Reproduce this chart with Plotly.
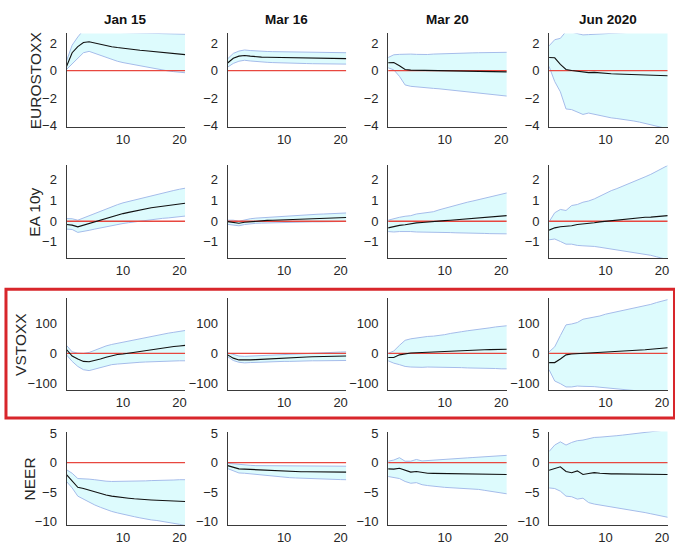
import plotly.graph_objects as go

W, H = 675, 554

# ---------------- data ----------------
horizon = list(range(0, 22))
periods = ["Jan 15", "Mar 16", "Mar 20", "Jun 2020"]
variables = ["EUROSTOXX", "EA 10y", "VSTOXX", "NEER"]
x_ticks = [10, 20]
y_ticks_estx = [-4, -2, 0, 2]
y_ticks_ea10 = [-1, 0, 1, 2]
y_ticks_vstx = [-100, 0, 100]
y_ticks_neer = [-10, -5, 0, 5]

# EUROSTOXX
estx_jan15_med = [0.3, 1.3, 1.75, 2.05, 2.1, 2.0, 1.9, 1.82, 1.74, 1.68, 1.62, 1.57, 1.52, 1.48, 1.44, 1.40, 1.36, 1.32, 1.28, 1.24, 1.20, 1.16]
estx_jan15_hi = [0.7, 1.85, 2.45, 2.95, 3.05, 2.98, 2.92, 2.86, 2.8, 2.78, 2.77, 2.76, 2.75, 2.74, 2.73, 2.72, 2.71, 2.7, 2.69, 2.68, 2.67, 2.65]
estx_jan15_lo = [0.08, 0.5, 0.95, 1.3, 1.4, 1.25, 1.1, 0.95, 0.78, 0.68, 0.58, 0.5, 0.42, 0.34, 0.26, 0.18, 0.1, 0.03, -0.03, -0.08, -0.12, -0.16]
estx_mar16_med = [0.55, 0.9, 1.05, 1.1, 1.05, 1.0, 0.98, 0.97, 0.96, 0.95, 0.94, 0.93, 0.92, 0.92, 0.91, 0.9, 0.9, 0.89, 0.89, 0.88, 0.88, 0.87]
estx_mar16_hi = [0.85, 1.25, 1.42, 1.5, 1.46, 1.42, 1.4, 1.39, 1.38, 1.37, 1.36, 1.35, 1.35, 1.34, 1.33, 1.33, 1.32, 1.32, 1.31, 1.31, 1.3, 1.3]
estx_mar16_lo = [0.25, 0.52, 0.68, 0.75, 0.7, 0.65, 0.62, 0.6, 0.58, 0.56, 0.55, 0.54, 0.53, 0.52, 0.51, 0.5, 0.5, 0.49, 0.48, 0.48, 0.47, 0.47]
estx_mar20_med = [0.57, 0.58, 0.35, 0.08, 0.03, 0.02, 0.0, -0.02, 0.0, 0.01, 0.0, -0.01, -0.02, -0.03, -0.04, -0.05, -0.06, -0.07, -0.08, -0.09, -0.1, -0.1]
estx_mar20_hi = [0.95, 1.15, 1.18, 1.2, 1.2, 1.18, 1.15, 1.17, 1.2, 1.22, 1.24, 1.25, 1.26, 1.27, 1.28, 1.29, 1.3, 1.31, 1.32, 1.32, 1.33, 1.33]
estx_mar20_lo = [0.2, 0.05, -0.42, -1.05, -1.15, -1.2, -1.23, -1.27, -1.3, -1.33, -1.37, -1.41, -1.45, -1.5, -1.55, -1.6, -1.65, -1.7, -1.74, -1.78, -1.82, -1.86]
estx_jun20_med = [0.95, 0.93, 0.45, 0.08, 0.0, -0.06, -0.12, -0.15, -0.13, -0.18, -0.21, -0.23, -0.25, -0.27, -0.29, -0.31, -0.32, -0.33, -0.35, -0.36, -0.37, -0.38]
estx_jun20_hi = [1.8, 2.25, 2.35, 2.85, 2.8, 2.7, 2.6, 2.62, 2.65, 2.67, 2.7, 2.72, 2.74, 2.76, 2.78, 2.8, 2.83, 2.86, 2.9, 2.93, 2.96, 3.0]
estx_jun20_lo = [0.3, -0.8, -1.55, -2.8, -2.85, -3.0, -3.2, -3.1, -3.2, -3.3, -3.4, -3.45, -3.5, -3.55, -3.6, -3.68, -3.76, -3.85, -3.95, -4.05, -4.15, -4.3]

# EA 10y
ea10_jan15_med = [-0.16, -0.19, -0.27, -0.19, -0.1, 0.0, 0.08, 0.16, 0.23, 0.3, 0.37, 0.43, 0.49, 0.55, 0.6, 0.65, 0.69, 0.73, 0.76, 0.8, 0.84, 0.87]
ea10_jan15_hi = [0.13, 0.12, 0.05, 0.16, 0.27, 0.37, 0.49, 0.6, 0.7, 0.8, 0.89, 0.96, 1.03, 1.1, 1.16, 1.23, 1.3, 1.37, 1.43, 1.49, 1.55, 1.6]
ea10_jan15_lo = [-0.38, -0.4, -0.54, -0.5, -0.44, -0.38, -0.32, -0.27, -0.21, -0.16, -0.11, -0.07, -0.03, 0.01, 0.05, 0.08, 0.11, 0.14, 0.16, 0.19, 0.22, 0.25]
ea10_mar16_med = [-0.02, -0.05, -0.1, -0.05, -0.02, 0.0, 0.02, 0.04, 0.05, 0.06, 0.07, 0.08, 0.09, 0.1, 0.11, 0.12, 0.13, 0.14, 0.15, 0.16, 0.17, 0.18]
ea10_mar16_hi = [0.05, 0.05, 0.0, 0.07, 0.12, 0.15, 0.17, 0.19, 0.21, 0.23, 0.25, 0.27, 0.28, 0.3, 0.31, 0.32, 0.34, 0.35, 0.36, 0.37, 0.38, 0.4]
ea10_mar16_lo = [-0.15, -0.18, -0.22, -0.16, -0.12, -0.1, -0.09, -0.08, -0.07, -0.06, -0.05, -0.05, -0.04, -0.04, -0.03, -0.03, -0.03, -0.02, -0.02, -0.02, -0.01, -0.01]
ea10_mar20_med = [-0.32, -0.25, -0.2, -0.17, -0.12, -0.08, -0.06, -0.03, 0.0, 0.01, 0.03, 0.05, 0.07, 0.09, 0.11, 0.13, 0.15, 0.17, 0.19, 0.22, 0.25, 0.27]
ea10_mar20_hi = [0.05, 0.13, 0.19, 0.24, 0.27, 0.35, 0.38, 0.42, 0.46, 0.55, 0.63, 0.7, 0.78, 0.85, 0.92, 0.98, 1.04, 1.1, 1.16, 1.23, 1.3, 1.37]
ea10_mar20_lo = [-0.5, -0.52, -0.5, -0.49, -0.5, -0.52, -0.52, -0.53, -0.53, -0.54, -0.55, -0.55, -0.56, -0.56, -0.57, -0.57, -0.58, -0.59, -0.6, -0.6, -0.6, -0.61]
ea10_jun20_med = [-0.43, -0.32, -0.27, -0.25, -0.22, -0.16, -0.14, -0.11, -0.07, -0.03, 0.0, 0.03, 0.07, 0.1, 0.13, 0.15, 0.17, 0.19, 0.2, 0.22, 0.25, 0.27]
ea10_jun20_hi = [-0.03, 0.41, 0.57, 0.52, 0.76, 0.81, 0.92, 0.98, 1.08, 1.22, 1.37, 1.48, 1.58, 1.69, 1.79, 1.91, 2.03, 2.15, 2.27, 2.42, 2.56, 2.7]
ea10_jun20_lo = [-0.9, -0.86, -0.98, -1.11, -1.11, -1.17, -1.19, -1.2, -1.22, -1.26, -1.3, -1.34, -1.38, -1.42, -1.46, -1.51, -1.55, -1.6, -1.65, -1.72, -1.79, -1.86]

# VSTOXX
vstx_jan15_med = [13, -9, -19, -27, -28, -24, -19, -13, -8, -4, -2, 1, 4, 7, 10, 13, 16, 18.5, 21, 23, 25, 27]
vstx_jan15_hi = [27, 5, 1, 0, 3, 10, 19, 25, 30, 34, 38, 41, 44, 48, 52, 56, 60, 64, 68, 71, 74, 77]
vstx_jan15_lo = [-5, -27, -44, -55, -58, -53, -49, -45, -38, -36, -34, -32, -31, -30, -29, -28, -27, -26.5, -26, -25.5, -25, -25]
vstx_mar16_med = [-5, -16, -22, -23, -22, -21, -20, -19, -16, -15.5, -15, -14, -13, -12.5, -12, -11.5, -11, -10.5, -10, -9.5, -9, -9]
vstx_mar16_hi = [2, -4, -9, -10, -9, -8, -7, -6, -5, -4.5, -4, -3, -2, -1.5, -1, 0, 1, 2, 3, 4, 4.5, 5]
vstx_mar16_lo = [-11, -24, -30, -32, -31, -30, -29, -28, -28, -27, -27, -27, -26, -26, -26, -25, -25, -25, -25, -25, -24, -24]
vstx_mar20_med = [-14, -14, -5, -1, 1, 2, 3, 3, 3, 4, 5, 6, 8, 9, 10, 10.5, 11, 12, 12.5, 13, 13.5, 14]
vstx_mar20_hi = [0, 8, 27, 44, 49, 52, 55, 57, 58, 60, 63, 67, 71, 73, 76, 78, 80, 83, 86, 89, 91, 93]
vstx_mar20_lo = [-25, -33, -38, -44, -46, -47, -47, -46, -46, -46, -47, -47, -48, -48, -49, -49, -50, -50, -51, -51, -52, -52]
vstx_jun20_med = [-31, -31, -19, -5, -2, -1, 0, 1, 1, 2, 3, 4, 5, 6, 8, 9, 11, 12, 14, 15, 17, 19]
vstx_jun20_hi = [5, 22, 60, 96, 99, 104, 115, 118, 121, 126, 132, 136, 140, 144, 148, 152, 157, 161, 165, 171, 176, 181]
vstx_jun20_lo = [-55, -93, -102, -113, -113, -110, -111, -111, -112, -114, -116, -118, -121, -122, -124, -125, -126, -127, -128, -129, -130, -132]

# NEER
neer_jan15_med = [-2.05, -3.05, -4.2, -4.4, -4.7, -5.0, -5.3, -5.5, -5.7, -5.85, -5.95, -6.05, -6.15, -6.25, -6.3, -6.35, -6.4, -6.45, -6.5, -6.55, -6.6, -6.6]
neer_jan15_hi = [-1.2, -1.8, -2.7, -2.7, -2.8, -2.9, -3.05, -3.15, -3.2, -3.2, -3.2, -3.2, -3.2, -3.15, -3.1, -3.05, -3.05, -3.0, -3.0, -2.95, -2.9, -2.9]
neer_jan15_lo = [-3.2, -4.3, -5.7, -6.2, -6.8, -7.2, -7.6, -8.0, -8.3, -8.55, -8.8, -9.0, -9.2, -9.4, -9.6, -9.75, -9.85, -10.0, -10.1, -10.3, -10.5, -10.7]
neer_mar16_med = [-0.5, -0.8, -1.05, -1.1, -1.15, -1.25, -1.3, -1.35, -1.4, -1.45, -1.5, -1.5, -1.52, -1.54, -1.55, -1.56, -1.57, -1.58, -1.59, -1.6, -1.6, -1.6]
neer_mar16_hi = [-0.1, -0.2, -0.35, -0.4, -0.45, -0.5, -0.5, -0.52, -0.53, -0.54, -0.55, -0.55, -0.56, -0.57, -0.57, -0.58, -0.58, -0.59, -0.59, -0.6, -0.6, -0.6]
neer_mar16_lo = [-1.0, -1.4, -1.75, -1.8, -1.9, -2.05, -2.15, -2.25, -2.35, -2.42, -2.5, -2.55, -2.6, -2.65, -2.7, -2.73, -2.76, -2.8, -2.83, -2.86, -2.88, -2.9]
neer_mar20_med = [-1.05, -1.1, -0.95, -1.3, -1.6, -1.5, -1.7, -1.8, -1.82, -1.84, -1.85, -1.85, -1.86, -1.86, -1.87, -1.88, -1.9, -1.92, -1.95, -1.97, -1.98, -2.0]
neer_mar20_hi = [0.25, 0.45, 0.85, 0.25, 0.25, 0.55, 0.3, 0.38, 0.45, 0.5, 0.55, 0.62, 0.7, 0.76, 0.82, 0.88, 0.95, 1.02, 1.08, 1.14, 1.2, 1.25]
neer_mar20_lo = [-2.35, -2.5, -2.7, -3.2, -3.5, -3.4, -3.75, -3.9, -4.05, -4.1, -4.2, -4.25, -4.3, -4.37, -4.43, -4.5, -4.55, -4.7, -4.85, -5.0, -5.15, -5.3]
neer_jun20_med = [-1.3, -1.0, -0.7, -1.5, -1.7, -1.4, -2.0, -1.85, -1.7, -1.8, -1.9, -1.9, -1.9, -1.9, -1.9, -1.92, -1.94, -1.95, -1.96, -1.98, -2.0, -2.0]
neer_jun20_hi = [1.9, 3.0, 3.55, 3.0, 3.45, 3.75, 3.85, 4.1, 4.3, 4.35, 4.4, 4.5, 4.6, 4.7, 4.8, 4.9, 5.0, 5.1, 5.2, 5.35, 5.5, 5.7]
neer_jun20_lo = [-4.3, -4.4, -4.85, -5.7, -5.8, -6.2, -6.05, -6.8, -7.05, -7.2, -7.35, -7.5, -7.7, -7.85, -8.05, -8.2, -8.35, -8.5, -8.7, -8.9, -9.1, -9.3]

panels = [
    [(estx_jan15_med, estx_jan15_lo, estx_jan15_hi), (estx_mar16_med, estx_mar16_lo, estx_mar16_hi),
     (estx_mar20_med, estx_mar20_lo, estx_mar20_hi), (estx_jun20_med, estx_jun20_lo, estx_jun20_hi)],
    [(ea10_jan15_med, ea10_jan15_lo, ea10_jan15_hi), (ea10_mar16_med, ea10_mar16_lo, ea10_mar16_hi),
     (ea10_mar20_med, ea10_mar20_lo, ea10_mar20_hi), (ea10_jun20_med, ea10_jun20_lo, ea10_jun20_hi)],
    [(vstx_jan15_med, vstx_jan15_lo, vstx_jan15_hi), (vstx_mar16_med, vstx_mar16_lo, vstx_mar16_hi),
     (vstx_mar20_med, vstx_mar20_lo, vstx_mar20_hi), (vstx_jun20_med, vstx_jun20_lo, vstx_jun20_hi)],
    [(neer_jan15_med, neer_jan15_lo, neer_jan15_hi), (neer_mar16_med, neer_mar16_lo, neer_mar16_hi),
     (neer_mar20_med, neer_mar20_lo, neer_mar20_hi), (neer_jun20_med, neer_jun20_lo, neer_jun20_hi)],
]
row_yticks = [y_ticks_estx, y_ticks_ea10, y_ticks_vstx, y_ticks_neer]

# ---------------- layout geometry (pixels) ----------------
row_ranges = [[-4.14, 2.71], [-1.8, 2.7], [-125, 188], [-10.7, 5.3]]
col_left = [66.7, 228.3, 389.3, 550.7]
col_w = 119.0
row_top = [28, 163, 298, 435]
row_bot = [124, 258, 393, 531]
ylab_x = [35, 35, 20, 30]

FONT = "Liberation Sans, Arial, Helvetica, sans-serif"
TXT = "#262626"
AX = "#3a3a3a"
BAND_FILL = "rgb(221,251,253)"
BAND_EDGE = "rgb(165,188,234)"

fig = go.Figure()
layout = dict(
    width=W, height=H,
    margin=dict(l=0, r=0, t=0, b=0),
    paper_bgcolor="white", plot_bgcolor="white",
    showlegend=False,
    font=dict(family=FONT, size=13, color=TXT),
)

annotations = []
k = 0
for r in range(4):
    for c in range(4):
        k += 1
        xa = "xaxis" if k == 1 else f"xaxis{k}"
        ya = "yaxis" if k == 1 else f"yaxis{k}"
        xr = "x" if k == 1 else f"x{k}"
        yr = "y" if k == 1 else f"y{k}"
        x0 = col_left[c] / W
        x1 = (col_left[c] + col_w) / W
        y0 = 1 - row_bot[r] / H
        y1 = 1 - row_top[r] / H
        layout[xa] = dict(domain=[x0, x1], anchor=yr, range=[0, 21],
                          tickmode="array", tickvals=x_ticks,
                          showline=True, linecolor=AX, linewidth=1,
                          showgrid=False, zeroline=False, ticks="",
                          ticklabelstandoff=0,
                          tickfont=dict(family=FONT, size=13, color=TXT),
                          fixedrange=True)
        layout[ya] = dict(domain=[y0, y1], anchor=xr, range=row_ranges[r],
                          tickmode="array", tickvals=row_yticks[r],
                          showline=True, linecolor=AX, linewidth=1,
                          showgrid=False, zeroline=False, ticks="",
                          ticklabelstandoff=6,
                          tickfont=dict(family=FONT, size=13, color=TXT),
                          fixedrange=True)
        med, lo, hi = panels[r][c]
        fig.add_trace(go.Scatter(x=horizon, y=hi, xaxis=xr, yaxis=yr, mode="lines",
                                 line=dict(color=BAND_EDGE, width=1), hoverinfo="skip"))
        fig.add_trace(go.Scatter(x=horizon, y=lo, xaxis=xr, yaxis=yr, mode="lines",
                                 line=dict(color=BAND_EDGE, width=1), fill="tonexty",
                                 fillcolor=BAND_FILL, hoverinfo="skip"))
        fig.add_trace(go.Scatter(x=[horizon[0], horizon[-1]], y=[0, 0], xaxis=xr, yaxis=yr,
                                 mode="lines", line=dict(color="#e8473f", width=1.3),
                                 hoverinfo="skip"))
        fig.add_trace(go.Scatter(x=horizon, y=med, xaxis=xr, yaxis=yr, mode="lines",
                                 line=dict(color="#111111", width=1.1), hoverinfo="skip"))

# column titles
for c in range(4):
    annotations.append(dict(text=f"<b>{periods[c]}</b>", xref="paper", yref="paper",
                            x=(col_left[c] + col_w / 2) / W, y=1 - 14 / H,
                            xanchor="center", yanchor="middle", showarrow=False,
                            font=dict(family=FONT, size=13.5, color="#111111")))
# row labels
for r in range(4):
    annotations.append(dict(text=variables[r], xref="paper", yref="paper",
                            x=ylab_x[r] / W, y=1 - (row_top[r] + row_bot[r]) / 2 / H,
                            xanchor="center", yanchor="middle", showarrow=False,
                            textangle=-90,
                            font=dict(family=FONT, size=15.5, color=TXT)))
layout["annotations"] = annotations

layout["shapes"] = [dict(type="rect", xref="paper", yref="paper",
                         x0=6 / W, x1=676.5 / W, y0=1 - 421 / H, y1=1 - 289.5 / H,
                         line=dict(color="#d8262b", width=3), fillcolor="rgba(0,0,0,0)")]

fig.update_layout(**layout)
fig.write_html(
    "out.html",
    config={"displayModeBar": False},
    post_script="document.body.style.margin='0';document.body.style.padding='0';"
                "document.body.style.overflow='hidden';",
)
